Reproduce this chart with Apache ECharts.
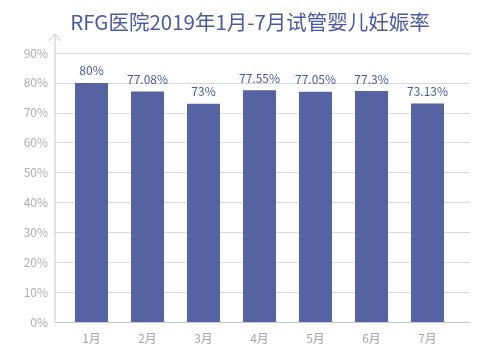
<!DOCTYPE html>
<html><head><meta charset="utf-8">
<script src="https://cdn.jsdelivr.net/npm/echarts@6/dist/echarts.min.js"></script>
<style>html,body{margin:0;padding:0;background:#fff}#c{width:500px;height:356px}</style>
</head><body><div id="c"></div>
<script>
const categories = ['1月','2月','3月','4月','5月','6月','7月'];
const rates = [80, 77.08, 73, 77.55, 77.05, 77.3, 73.13];
const yTicks = {min: 0, max: 90, interval: 10};
const titleText = 'RFG医院2019年1月-7月试管婴儿妊娠率';

const FONT = '"Noto Sans CJK SC", "Noto Sans", sans-serif';
const chart = echarts.init(document.getElementById('c'), null, {renderer: 'canvas'});
chart.setOption({
  animation: false,
  backgroundColor: '#fff',
  title: {
    text: titleText, left: 'center', top: 7, padding: [5, 5, 5, 17],
    textStyle: {color: '#4b5a9e', fontSize: 20.5, fontWeight: 'normal', fontFamily: FONT}
  },
  grid: [
    {left: 55, right: 30, top: 53, bottom: 34},
    {left: 63.5, right: 44.5, top: 53, bottom: 34}
  ],
  xAxis: [{
    gridIndex: 0, type: 'category', data: categories,
    axisLine: {lineStyle: {color: '#c8c8c8', width: 1}},
    axisTick: {show: false}, axisLabel: {show: false}
  }, {
    gridIndex: 1, type: 'category', data: categories,
    axisLine: {show: false},
    axisTick: {show: false},
    axisLabel: {color: '#a6a6a6', fontSize: 12, margin: 10, fontFamily: FONT}
  }],
  yAxis: [{
    gridIndex: 0, type: 'value', min: yTicks.min, max: yTicks.max, interval: yTicks.interval,
    axisLine: {show: false},
    axisTick: {show: false},
    splitLine: {lineStyle: {color: '#d9d9d9', width: 1}},
    axisLabel: {color: '#b0b0b0', fontSize: 12, margin: 7, formatter: '{value}%', fontFamily: FONT}
  }, {
    gridIndex: 1, type: 'value', min: yTicks.min, max: yTicks.max, interval: yTicks.interval,
    show: false
  }],
  series: [{
    type: 'bar', xAxisIndex: 1, yAxisIndex: 1, data: rates, barWidth: '59%',
    itemStyle: {color: '#5563a3'},
    label: {show: true, position: 'top', distance: 6, color: '#4b5a9e', fontSize: 12,
      fontFamily: FONT, formatter: p => p.value + '%'}
  }]
});
// y-axis line with open arrow extending above the top tick
const xs = chart.convertToPixel({xAxisIndex: 0}, categories[0]);
const step = chart.convertToPixel({xAxisIndex: 0}, categories[1]) - xs;
const x0 = xs - step / 2;
const yBottom = chart.convertToPixel({yAxisIndex: 0}, yTicks.min);
const yTop = chart.convertToPixel({yAxisIndex: 0}, yTicks.max) - 19;
chart.setOption({
  graphic: [
    {type: 'line', shape: {x1: x0, y1: yBottom, x2: x0, y2: yTop}, style: {stroke: '#c8c8c8', lineWidth: 1}, silent: true},
    {type: 'polyline', shape: {points: [[x0 - 6, yTop + 7], [x0, yTop], [x0 + 6, yTop + 7]]}, style: {stroke: '#c8c8c8', lineWidth: 1, fill: null}, silent: true}
  ]
});
</script></body></html>
